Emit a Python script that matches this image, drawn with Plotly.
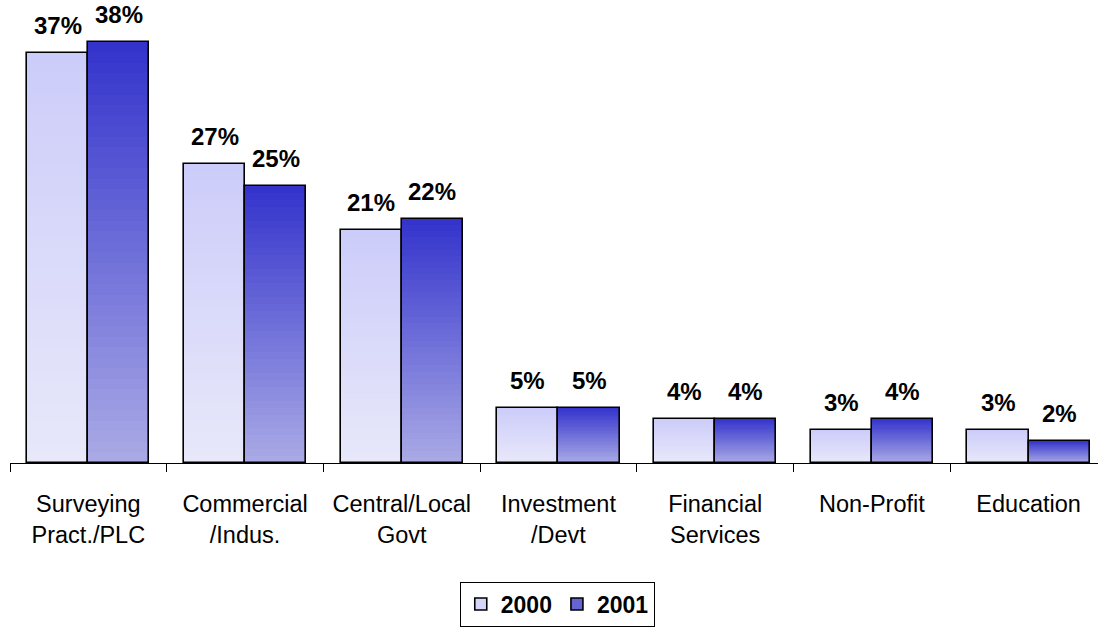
import plotly.graph_objects as go

# Share of respondents by employer sector
categories = [
    "Surveying<br>Pract./PLC",
    "Commercial<br>/Indus.",
    "Central/Local<br>Govt",
    "Investment<br>/Devt",
    "Financial<br>Services",
    "Non-Profit",
    "Education",
]
years = ["2000", "2001"]
values_2000 = [37, 27, 21, 5, 4, 3, 3]
values_2001 = [38, 25, 22, 5, 4, 4, 2]

FONT = "Arial, 'Liberation Sans', sans-serif"
BAR_W = 0.39
N_STEPS = 40  # vertical gradient resolution inside each bar

series = [
    # name, values, offset, top colour, bottom colour, legend colour
    ("2000", values_2000, -BAR_W, (204, 204, 250), (232, 232, 250), "rgb(214,214,250)"),
    ("2001", values_2001, 0.0, (51, 51, 204), (170, 170, 230), "rgb(100,100,210)"),
]


def mix(top, bottom, t):
    """Colour at relative height t (0 = bottom, 1 = top) of a bar."""
    r, g, b = (round(bottom[i] + (top[i] - bottom[i]) * t) for i in range(3))
    return f"rgb({r},{g},{b})"


fig = go.Figure()

for name, vals, offset, top, bottom, legend_col in series:
    # Gradient fill: each band starts at a fraction of the bar and runs to its top,
    # later bands drawn over earlier ones, so there are no seams.
    for k in range(N_STEPS):
        t = k / N_STEPS
        fig.add_trace(go.Bar(
            x=categories,
            y=[v * (1 - t) for v in vals],
            base=[v * t for v in vals],
            width=BAR_W,
            offset=offset,
            marker=dict(color=mix(top, bottom, (k + 0.5) / N_STEPS), line=dict(width=0)),
            showlegend=False,
            hoverinfo="skip",
        ))
    # Black outline over the gradient
    fig.add_trace(go.Bar(
        x=categories,
        y=vals,
        width=BAR_W,
        offset=offset,
        marker=dict(color="rgba(0,0,0,0)", line=dict(color="black", width=1.6)),
        showlegend=False,
        name=name,
    ))
    # Legend entry
    fig.add_trace(go.Bar(
        x=[None], y=[None], name=name,
        marker=dict(color=legend_col, line=dict(color="black", width=1.6)),
    ))
    # Value labels above each bar
    for i, v in enumerate(vals):
        fig.add_annotation(
            x=i + offset + BAR_W / 2, y=v, xref="x", yref="y",
            text=f"{v}%", showarrow=False, yanchor="bottom", yshift=12,
            font=dict(family=FONT, size=24, color="black", weight="bold"),
        )

fig.update_layout(
    width=1098, height=627,
    margin=dict(l=10, r=0, t=0, b=162),
    paper_bgcolor="white", plot_bgcolor="white",
    barmode="overlay",
    bargap=0,
    xaxis=dict(
        type="category",
        range=[-0.5, 6.443],
        showline=True, linecolor="black", linewidth=1,
        ticks="outside", tickson="boundaries", ticklen=8, tickcolor="black", tickwidth=1,
        ticklabelstandoff=20,
        showgrid=False, zeroline=False,
        tickfont=dict(family=FONT, size=23.5, color="black"),
    ),
    yaxis=dict(range=[0, 41.78], visible=False, showgrid=False, zeroline=False),
    legend=dict(
        orientation="h", x=0.503, xanchor="center", y=-0.256, yanchor="top",
        bordercolor="black", borderwidth=1, bgcolor="white",
        font=dict(family=FONT, size=23, color="black", weight="bold"),
        itemwidth=30, traceorder="normal",
    ),
    showlegend=True,
)

fig.write_html("out.html")
